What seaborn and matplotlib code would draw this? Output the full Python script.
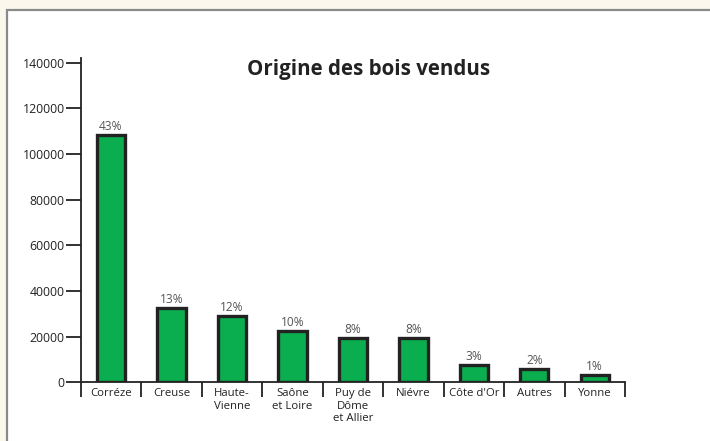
import seaborn as sns
import matplotlib.pyplot as plt
import matplotlib.patches as mpatches
import pandas as pd

# data
regions = ['Corréze', 'Creuse', 'Haute-\nVienne', 'Saône\net Loire', 'Puy de\nDôme\net Allier',
           'Niévre', "Côte d'Or", 'Autres', 'Yonne']
volumes = [108500, 32400, 29000, 22400, 19200, 19200, 7500, 5700, 3200]
shares = ['43%', '13%', '12%', '10%', '8%', '8%', '3%', '2%', '1%']
yticks = [0, 20000, 40000, 60000, 80000, 100000, 120000, 140000]

df = pd.DataFrame({'region': regions, 'volume': volumes})

sns.set_style('white')
plt.rcParams['font.family'] = ['Open Sans', 'DejaVu Sans']

fig = plt.figure(figsize=(7.1, 4.41), dpi=100)
fig.patch.set_facecolor('#fbf7ec')
# white panel with grey frame
panel = mpatches.Rectangle((7 / 710, -0.05), 1.1, 1 - 10 / 441 + 0.05, transform=fig.transFigure,
                           facecolor='white', edgecolor='#8a8a8a', linewidth=1.6, zorder=-5)
fig.patches.append(panel)

ax = fig.add_axes([80.7 / 710, 1 - 382.3 / 441, (625 - 80.7) / 710, (382.3 - 58.3) / 441])
ax.set_facecolor('none')

sns.barplot(data=df, x='region', y='volume', color='#0aae4e', saturation=1,
            edgecolor='#222222', linewidth=2.4, width=0.47, ax=ax)
ax.bar_label(ax.containers[0], labels=shares, padding=1.5, fontsize=8.6, color='#555555')

ax.set_xlim(-0.5, len(regions) - 0.5)
ax.set_ylim(0, 142000)
ax.set_yticks(yticks)
ax.set_yticklabels([str(v) for v in yticks])
ax.set_xlabel('')
ax.set_ylabel('')

for side in ['top', 'right']:
    ax.spines[side].set_visible(False)
for side in ['left', 'bottom']:
    ax.spines[side].set_color('#222222')
    ax.spines[side].set_linewidth(1.3)

ax.tick_params(axis='y', direction='out', length=10.5, width=1.3, color='#222222',
               labelsize=8.8, labelcolor='#222222', pad=1, left=True)
ax.tick_params(axis='x', length=0, labelsize=8.2, labelcolor='#222222', pad=4)
ax.set_xticks([i - 0.5 for i in range(len(regions) + 1)], minor=True)
ax.tick_params(axis='x', which='minor', direction='out', length=11, width=1.3,
               color='#222222', bottom=True)
for lbl in ax.get_xticklabels():
    lbl.set_linespacing(1.22)

fig.text(369 / 710, 1 - 70 / 441, 'Origine des bois vendus', ha='center', va='center',
         fontsize=14.8, fontweight='bold', color='#222222')

fig.savefig('out.png', dpi=100, facecolor=fig.get_facecolor())
